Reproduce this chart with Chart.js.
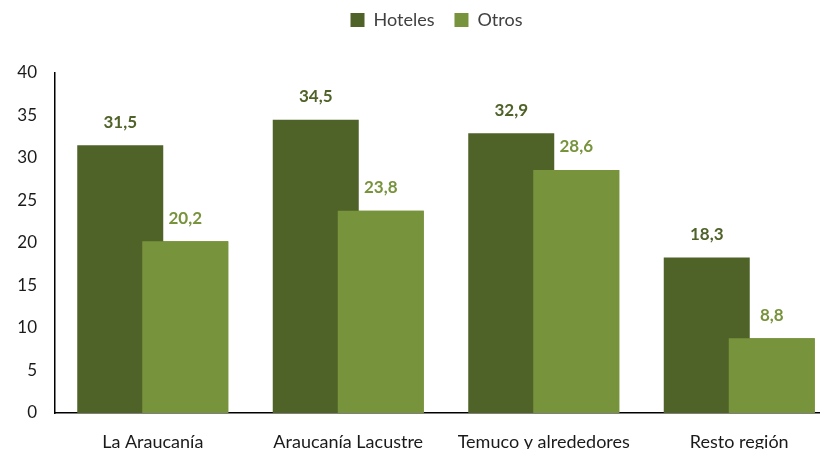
<!DOCTYPE html>
<html>
<head>
<meta charset="utf-8">
<script src="https://cdn.jsdelivr.net/npm/chart.js@4.4.1/dist/chart.umd.min.js"></script>
<style>
	html, body { margin: 0; padding: 0; overflow: hidden; background: #ffffff; }
	canvas { display: block; }
</style>
</head>
<body>
<canvas id="chart" width="837" height="449"></canvas>
<script>
// Chart data
const categories = ["La Araucanía", "Araucanía Lacustre", "Temuco y alrededores", "Resto región"];
const hoteles = [31.5, 34.5, 32.9, 18.3];
const otros = [20.2, 23.8, 28.6, 8.8];
const yTicks = [0, 5, 10, 15, 20, 25, 30, 35, 40];

const colors = {
	dark: "#4F6228",
	light: "#77933C",
	text: "#1a1a1a",
	legend: "#404040",
};

const fontFamily = "Lato, 'Open Sans', sans-serif";

// Redraw Otros on top, add value labels and nudge the legend
const overlapPlugin = {
	id: "overlap",
	afterLayout(chart) {
		chart.legend.left += 18;
		chart.legend.right += 18;
		chart.legend.top -= 34;
		chart.legend.bottom -= 34;
	},
	afterDatasetsDraw(chart) {
		const ctx = chart.ctx;
		chart.getDatasetMeta(1).data.forEach((bar) => bar.draw(ctx));

		ctx.save();
		ctx.font = "bold 17px " + fontFamily;
		ctx.textAlign = "center";
		ctx.textBaseline = "middle";
		chart.data.datasets.forEach((ds, i) => {
			ctx.fillStyle = ds.backgroundColor;
			chart.getDatasetMeta(i).data.forEach((bar, j) => {
				const label = ds.data[j].toFixed(1).replace(".", ",");
				ctx.fillText(label, bar.x, bar.y - 23);
			});
		});
		ctx.restore();
	},
};

new Chart(document.getElementById("chart"), {
	type: "bar",
	data: {
		labels: categories,
		datasets: [
			{
				label: "Hoteles",
				data: hoteles,
				backgroundColor: colors.dark,
				categoryPercentage: 0.665,
				barPercentage: 1.323,
			},
			{
				label: "Otros",
				data: otros,
				backgroundColor: colors.light,
				categoryPercentage: 0.665,
				barPercentage: 1.323,
			},
		],
	},
	options: {
		responsive: false,
		animation: false,
		layout: {
			padding: { top: 25, left: 0, right: 0, bottom: 0 },
		},
		plugins: {
			legend: {
				position: "top",
				labels: {
					boxWidth: 14,
					boxHeight: 14,
					padding: 20,
					color: colors.legend,
					font: { size: 18, family: fontFamily },
				},
			},
			tooltip: { enabled: false },
		},
		scales: {
			x: {
				grid: { display: false },
				border: { display: true, color: "#000000", width: 1.5 },
				ticks: {
					padding: 10,
					color: colors.text,
					maxRotation: 0,
					autoSkip: false,
					font: { size: 18, family: fontFamily },
				},
				afterFit(scale) {
					scale.height = 36;
				},
			},
			y: {
				min: 0,
				max: 40,
				grid: { display: false },
				border: { display: true, color: "#000000", width: 1.5 },
				ticks: {
					padding: 10,
					color: colors.text,
					font: { size: 17, family: fontFamily },
				},
				afterBuildTicks(scale) {
					scale.ticks = yTicks.map((v) => ({ value: v }));
				},
				afterFit(scale) {
					scale.width = 55;
				},
			},
		},
	},
	plugins: [overlapPlugin],
});
</script>
</body>
</html>
